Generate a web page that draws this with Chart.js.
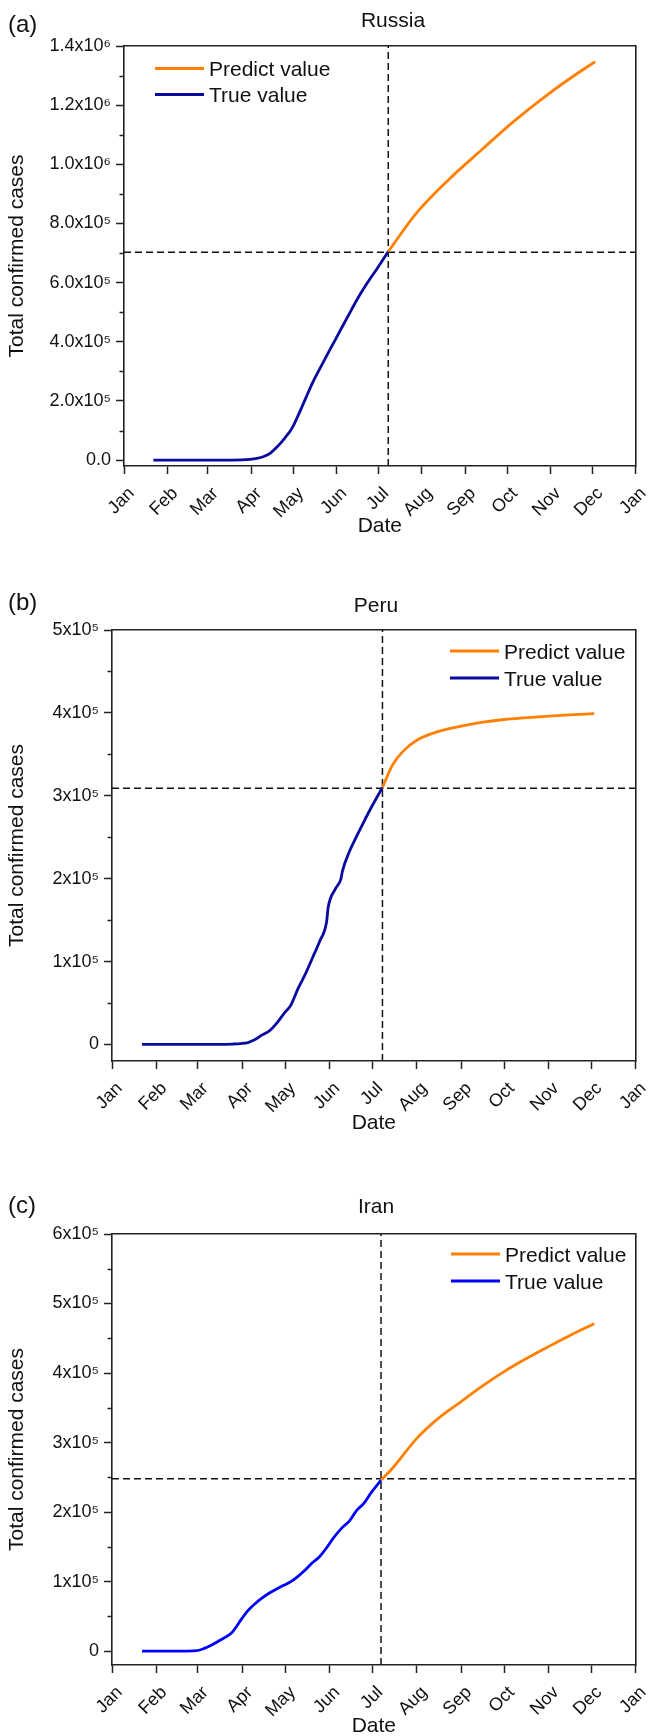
<!DOCTYPE html>
<html>
<head>
<meta charset="utf-8">
<script src="https://cdn.jsdelivr.net/npm/chart.js@4.4.1/dist/chart.umd.min.js"></script>
<style>
  html, body { margin: 0; padding: 0; background: #fff; overflow: hidden; }
  canvas { position: absolute; left: 0; display: block; }
</style>
</head>
<body>
<canvas id="chartA" width="660" height="575" style="top:0px"></canvas>
<canvas id="chartB" width="660" height="575" style="top:575px"></canvas>
<canvas id="chartC" width="660" height="600" style="top:1150px"></canvas>
<script>
// x axis: months of 2020 (leap year), Jan 1 2020 -> Jan 1 2021
const monthLabels = ['Jan', 'Feb', 'Mar', 'Apr', 'May', 'Jun', 'Jul', 'Aug', 'Sep', 'Oct', 'Nov', 'Dec', 'Jan'];
const monthStarts = ['2020-01-01', '2020-02-01', '2020-03-01', '2020-04-01', '2020-05-01', '2020-06-01',
    '2020-07-01', '2020-08-01', '2020-09-01', '2020-10-01', '2020-11-01', '2020-12-01', '2021-01-01'];

// (a) Russia
const russiaTrueDates = ['2020-01-22', '2020-02-15', '2020-03-01', '2020-03-15', '2020-03-25', '2020-03-31',
    '2020-04-05', '2020-04-10', '2020-04-15', '2020-04-20', '2020-04-25', '2020-04-30', '2020-05-05',
    '2020-05-10', '2020-05-15', '2020-05-20', '2020-05-25', '2020-05-31', '2020-06-05', '2020-06-10',
    '2020-06-15', '2020-06-20', '2020-06-25', '2020-06-30', '2020-07-08'];
const russiaTrueCases = [0, 2, 2, 63, 658, 2337, 5389, 11917, 24490, 47121, 74588, 106498, 155370,
    209688, 262843, 308705, 353427, 405843, 449834, 493657, 537210, 576952, 613148, 646929, 705000];
const russiaPredDates = ['2020-07-08', '2020-07-28', '2020-08-20', '2020-09-13', '2020-10-06', '2020-10-30',
    '2020-11-22', '2020-12-03'];
const russiaPredCases = [705000, 834000, 947000, 1050000, 1146000, 1236000, 1313000, 1347000];
const russiaCutDate = '2020-07-08';
const russiaCutCases = 703000;
const russiaYTicks = [0, 200000, 400000, 600000, 800000, 1000000, 1200000, 1400000];
const russiaYLabels = ['0.0', '2.0x10⁵', '4.0x10⁵', '6.0x10⁵', '8.0x10⁵', '1.0x10⁶', '1.2x10⁶', '1.4x10⁶'];
const russiaYMinor = [100000, 300000, 500000, 700000, 900000, 1100000, 1300000];

// (b) Peru
const peruTrueDates = ['2020-01-22', '2020-03-06', '2020-03-15', '2020-03-25', '2020-03-31', '2020-04-05',
    '2020-04-10', '2020-04-15', '2020-04-20', '2020-04-25', '2020-04-30', '2020-05-05', '2020-05-10',
    '2020-05-15', '2020-05-20', '2020-05-25', '2020-05-30', '2020-05-31', '2020-06-05', '2020-06-09',
    '2020-06-10', '2020-06-15', '2020-06-20', '2020-06-25', '2020-06-30', '2020-07-08'];
const peruTrueCases = [0, 1, 71, 480, 1065, 2281, 5897, 11475, 16325, 25331, 36976, 47372, 67307,
    84495, 104020, 123979, 148285, 164476, 187400, 199696, 208823, 232992, 251338, 268602, 285213, 310000];
const peruPredDates = ['2020-07-08', '2020-07-15', '2020-07-22', '2020-08-01', '2020-08-15', '2020-09-01',
    '2020-09-15', '2020-10-01', '2020-10-15', '2020-11-01', '2020-11-15', '2020-12-03'];
const peruPredCases = [310000, 337000, 353000, 367000, 377000, 384000, 388500, 392000, 394000, 396000, 397500, 399000];
const peruCutDate = '2020-07-08';
const peruCutCases = 309000;
const peruYTicks = [0, 100000, 200000, 300000, 400000, 500000];
const peruYLabels = ['0', '1x10⁵', '2x10⁵', '3x10⁵', '4x10⁵', '5x10⁵'];
const peruYMinor = [50000, 150000, 250000, 350000, 450000];

// (c) Iran
const iranTrueDates = ['2020-01-22', '2020-02-19', '2020-02-29', '2020-03-05', '2020-03-10', '2020-03-15',
    '2020-03-20', '2020-03-25', '2020-03-28', '2020-03-31', '2020-04-05', '2020-04-10', '2020-04-15',
    '2020-04-20', '2020-04-25', '2020-04-30', '2020-05-05', '2020-05-10', '2020-05-15', '2020-05-20',
    '2020-05-25', '2020-05-31', '2020-06-03', '2020-06-10', '2020-06-15', '2020-06-20', '2020-06-25',
    '2020-06-30', '2020-07-07'];
const iranTrueCases = [0, 2, 593, 3513, 8042, 13938, 19644, 27017, 35408, 44605, 58226, 68192, 76389,
    83505, 89328, 94640, 99970, 107603, 116635, 126949, 135701, 151466, 160696, 177938, 187427, 202584,
    212501, 227662, 246000];
const iranPredDates = ['2020-07-07', '2020-07-15', '2020-08-01', '2020-08-15', '2020-09-01', '2020-09-15',
    '2020-10-01', '2020-10-15', '2020-11-01', '2020-11-15', '2020-12-03'];
const iranPredCases = [246000, 263000, 306000, 333000, 359000, 380000, 402000, 419000, 438000, 453000, 471000];
const iranCutDate = '2020-07-07';
const iranCutCases = 248000;
const iranYTicks = [0, 100000, 200000, 300000, 400000, 500000, 600000];
const iranYLabels = ['0', '1x10⁵', '2x10⁵', '3x10⁵', '4x10⁵', '5x10⁵', '6x10⁵'];
const iranYMinor = [50000, 150000, 250000, 350000, 450000, 550000];

const FONT = 'Arial, "Liberation Sans", sans-serif';
const INK = '#111';
const ORANGE = '#ff8000';
Chart.defaults.font.family = FONT;
Chart.defaults.color = INK;

const day = s => (Date.parse(s) - Date.parse('2020-01-01')) / 864e5;
const X_MAX = day('2021-01-01');
const Y_MIN = -20000;

// draws minor ticks, the in-plot legend, panel title and letter
const panelDecor = {
    id: 'panelDecor',
    afterDraw(chart, args, opts) {
        const {ctx, chartArea} = chart;
        const yScale = chart.scales.y;
        ctx.save();
        ctx.strokeStyle = '#222';
        ctx.lineWidth = 1.5;
        opts.minor.forEach(v => {
            const y = Math.round(yScale.getPixelForValue(v)) + 0.5;
            ctx.beginPath();
            ctx.moveTo(chartArea.left - 4.5, y);
            ctx.lineTo(chartArea.left, y);
            ctx.stroke();
        });

        ctx.font = '21px ' + FONT;
        ctx.textAlign = 'left';
        ctx.textBaseline = 'alphabetic';
        [0, 1].forEach(i => {
            const ds = chart.data.datasets[i];
            const y = chartArea.top + opts.legendY[i];
            ctx.strokeStyle = ds.borderColor;
            ctx.lineWidth = 3;
            ctx.beginPath();
            ctx.moveTo(opts.legendX, y);
            ctx.lineTo(opts.legendX + 49, y);
            ctx.stroke();
            ctx.fillStyle = INK;
            ctx.fillText(ds.label, opts.legendX + 54, y + 7.5);
        });

        ctx.font = '21px ' + FONT;
        ctx.textAlign = 'center';
        ctx.fillText(opts.title, opts.titleX, opts.titleY);
        ctx.font = '24px ' + FONT;
        ctx.textAlign = 'left';
        ctx.fillText(opts.letter, 8, opts.letterY);
        ctx.restore();
    }
};

function makePanel(id, p) {
    const curve = (dates, cases, color, label) => ({
        label: label,
        data: dates.map((d, i) => ({x: day(d), y: cases[i]})),
        borderColor: color,
        borderWidth: 2.8,
        pointRadius: 0,
        tension: 0.4,
        cubicInterpolationMode: 'monotone',
        xAxisID: 'x',
        yAxisID: 'y'
    });
    const dashed = data => ({
        label: '',
        data: data,
        borderColor: INK,
        borderWidth: 1.5,
        borderDash: [7, 4],
        pointRadius: 0,
        tension: 0,
        xAxisID: 'x',
        yAxisID: 'y'
    });
    const canvas = document.getElementById(id);
    new Chart(canvas, {
        type: 'line',
        data: {
            datasets: [
                curve(p.predDates, p.predCases, ORANGE, 'Predict value'),
                curve(p.trueDates, p.trueCases, p.trueColor, 'True value'),
                dashed([{x: day(p.cutDate), y: Y_MIN}, {x: day(p.cutDate), y: p.yMax}]),
                dashed([{x: 0, y: p.cutCases}, {x: X_MAX, y: p.cutCases}])
            ]
        },
        options: {
            responsive: false,
            animation: false,
            events: [],
            layout: {
                padding: {top: p.top, right: 13, left: 0, bottom: canvas.height - p.xBottom}
            },
            scales: {
                x: {
                    type: 'linear',
                    position: 'bottom',
                    min: 0,
                    max: X_MAX,
                    afterBuildTicks: s => { s.ticks = monthStarts.map(d => ({value: day(d)})); },
                    afterFit: s => { s.height = p.xBottom - p.bottom; },
                    ticks: {
                        autoSkip: false,
                        minRotation: 45,
                        maxRotation: 45,
                        padding: 9,
                        font: {size: 18},
                        showLabelBackdrop: true,
                        backdropColor: 'rgba(0,0,0,0)',
                        callback: (v, i) => monthLabels[i]
                    },
                    grid: {drawOnChartArea: false, tickLength: 8, tickWidth: 1.5, tickColor: '#222'},
                    border: {display: true, color: '#222', width: 1.6},
                    title: {display: true, text: 'Date', font: {size: 21}, padding: 0}
                },
                xTop: {
                    type: 'linear',
                    position: 'top',
                    min: 0,
                    max: X_MAX,
                    afterFit: s => { s.height = 0; },
                    ticks: {display: false},
                    grid: {display: false},
                    border: {display: true, color: '#222', width: 1.6}
                },
                y: {
                    type: 'linear',
                    position: 'left',
                    min: Y_MIN,
                    max: p.yMax,
                    afterBuildTicks: s => { s.ticks = p.yTicks.map(v => ({value: v})); },
                    afterFit: s => { s.width = p.left; },
                    ticks: {
                        padding: 5,
                        font: {size: 18},
                        callback: v => p.yLabels[p.yTicks.indexOf(v)]
                    },
                    grid: {drawOnChartArea: false, tickLength: 8, tickWidth: 1.5, tickColor: '#222'},
                    border: {display: true, color: '#222', width: 1.6},
                    title: {display: true, text: 'Total confirmed cases', font: {size: 21}, padding: {top: 5, bottom: 0}}
                },
                yRight: {
                    type: 'linear',
                    position: 'right',
                    min: Y_MIN,
                    max: p.yMax,
                    afterFit: s => { s.width = 0; },
                    ticks: {display: false},
                    grid: {display: false},
                    border: {display: true, color: '#222', width: 1.6}
                }
            },
            plugins: {
                legend: {display: false},
                tooltip: {enabled: false},
                panelDecor: {
                    minor: p.yMinor,
                    legendX: p.legendX,
                    legendY: p.legendY,
                    title: p.title,
                    titleX: p.titleX,
                    titleY: p.titleY,
                    letter: p.letter,
                    letterY: p.letterY
                }
            }
        },
        plugins: [panelDecor]
    });
}

makePanel('chartA', {
    trueDates: russiaTrueDates, trueCases: russiaTrueCases,
    predDates: russiaPredDates, predCases: russiaPredCases,
    cutDate: russiaCutDate, cutCases: russiaCutCases,
    yMax: 1400000, yTicks: russiaYTicks, yLabels: russiaYLabels, yMinor: russiaYMinor,
    trueColor: '#0a0aa0',
    top: 46, bottom: 466, left: 124, xBottom: 539,
    legendX: 155, legendY: [22.5, 48.5],
    title: 'Russia', titleX: 393, titleY: 27, letter: '(a)', letterY: 32
});

makePanel('chartB', {
    trueDates: peruTrueDates, trueCases: peruTrueCases,
    predDates: peruPredDates, predCases: peruPredCases,
    cutDate: peruCutDate, cutCases: peruCutCases,
    yMax: 500000, yTicks: peruYTicks, yLabels: peruYLabels, yMinor: peruYMinor,
    trueColor: '#0a0aa0',
    top: 55, bottom: 486, left: 112, xBottom: 560.6,
    legendX: 450, legendY: [21, 48],
    title: 'Peru', titleX: 376, titleY: 37, letter: '(b)', letterY: 35
});

makePanel('chartC', {
    trueDates: iranTrueDates, trueCases: iranTrueCases,
    predDates: iranPredDates, predCases: iranPredCases,
    cutDate: iranCutDate, cutCases: iranCutCases,
    yMax: 600000, yTicks: iranYTicks, yLabels: iranYLabels, yMinor: iranYMinor,
    trueColor: '#0000ff',
    top: 84, bottom: 515, left: 112, xBottom: 588.6,
    legendX: 451, legendY: [20, 47],
    title: 'Iran', titleX: 376, titleY: 63, letter: '(c)', letterY: 63
});
</script>
</body>
</html>
